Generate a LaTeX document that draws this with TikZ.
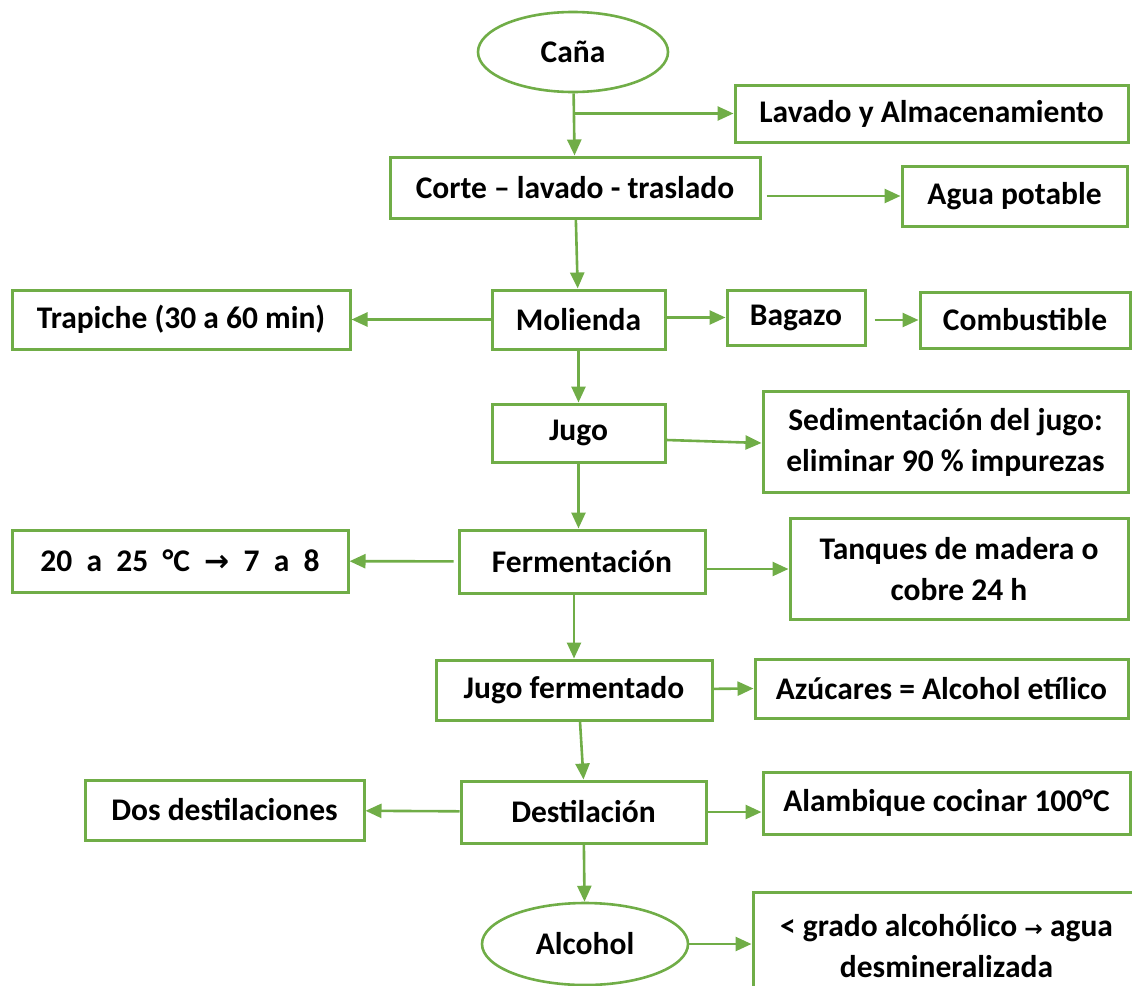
\documentclass[tikz,border=0pt]{standalone}
\usepackage{fontspec}
\setmainfont{Carlito}
\newfontfamily\arrowfont{DejaVu Sans}
\usepackage{xcolor}
\usetikzlibrary{shapes.geometric,arrows.meta,positioning}
\definecolor{leafgreen}{HTML}{70AD47}

\begin{document}
\begin{tikzpicture}[x=1pt, y=-1pt, font=\fontsize{31.5}{41}\selectfont\bfseries]
        \tikzstyle{block} = [rectangle, draw=leafgreen, line width=3pt, align=center, inner sep=0pt]
        \tikzstyle{term} = [ellipse, draw=leafgreen, line width=2.6pt, inner sep=0pt]
        \tikzstyle{line} = [draw=leafgreen, line width=2.6pt, -{Triangle[length=16pt, width=14pt]}]

        \useasboundingbox (0,0) rectangle (1132,985);
        \clip (0,0) rectangle (1132,985);

        % Main column
        \node [term, minimum width=190, minimum height=80] (cana) at (573,52) {Caña};
        \node [block, minimum width=370, minimum height=61] (corte) at (575,187.5) {Corte – lavado - traslado};
        \node [block, minimum width=173, minimum height=59] (molienda) at (578.5,319.5) {Molienda};
        \node [block, minimum width=173, minimum height=58] (jugo) at (578.5,433) {Jugo};
        \node [block, minimum width=246, minimum height=63] (ferment) at (582,561.5) {Fermentación};
        \node [block, minimum width=276, minimum height=60] (jferm) at (574,690) {Jugo fermentado};
        \node [block, minimum width=245, minimum height=62] (destil) at (583.5,812) {Destilación};
        \node [term, minimum width=206, minimum height=82] (alcohol) at (585,944) {Alcohol};

        % Side nodes, right
        \node [block, minimum width=393, minimum height=57] (lavado) at (931.5,113.5) {Lavado y Almacenamiento};
        \node [block, minimum width=225, minimum height=60] (agua) at (1014.5,196) {Agua potable};
        \node [block, minimum width=138, minimum height=55] (bagazo) at (796,317.5) {Bagazo};
        \node [block, minimum width=210, minimum height=56] (combust) at (1025,320) {Combustible};
        \node [block, minimum width=365, minimum height=101] (sedim) at (945.5,442) {Sedimentación del jugo:\\eliminar 90 \% impurezas};
        \node [block, minimum width=338, minimum height=101] (tanques) at (959,569) {Tanques de madera o\\cobre 24 h};
        \node [block, minimum width=373, minimum height=59] (azucar) at (941.5,688.5) {Azúcares = Alcohol etílico};
        \node [block, minimum width=367, minimum height=62] (alambique) at (946.5,803) {Alambique cocinar 100°C};
        \node [block, minimum width=387, minimum height=108] (grado) at (946.5,946) {< grado alcohólico {\arrowfont\fontsize{22}{22}\selectfont →} agua\\desmineralizada};

        % Side nodes, left
        \node [block, minimum width=338, minimum height=59] (trapiche) at (181,319.5) {Trapiche (30 a 60 min)};
        \node [block, minimum width=336, minimum height=62] (temp) at (180,561) {20\ \ a\ \ 25\ \ °C\ \ {\arrowfont\fontsize{30}{30}\selectfont →}\ \ 7\ \ a\ \ 8};
        \node [block, minimum width=279, minimum height=60] (dos) at (224.5,810) {Dos destilaciones};

        % Paths, main column
        \path [line] (cana) -- (corte);
        \path [line] (cana.south |- lavado.west) -- (lavado.west);
        \path [line] (corte) -- (molienda);
        \path [line] (molienda) -- (jugo);
        \path [line] (jugo.south) -- (ferment.north -| jugo.south);
        \path [line] (ferment.south -| jferm.north) -- (jferm.north);
        \path [line] ([xshift=6pt]jferm.south) -- (destil.north);
        \path [line] (destil) -- (alcohol);

        % Paths, sideways
        \path [line, shorten <=5pt] (corte.east |- agua.west) -- (agua.west);
        \path [line] (molienda) -- (trapiche);
        \path [line] (molienda.east |- bagazo.west) -- (bagazo.west);
        \path [line, shorten <=8pt] (bagazo.east |- combust.west) -- (combust.west);
        \path [line] ([yshift=-7pt]jugo.east) -- ([yshift=-1pt]sedim.west);
        \path [line, shorten <=4pt] (ferment) -- (temp);
        \path [line] (ferment.east |- tanques.west) -- (tanques.west);
        \path [line] (jferm) -- (azucar.west);
        \path [line] (destil) -- (dos);
        \path [line] (destil.east) -- (alambique.west |- destil.east);
        \path [line] (alcohol) -- (grado.west |- alcohol.east);
    \end{tikzpicture}
\end{document}
